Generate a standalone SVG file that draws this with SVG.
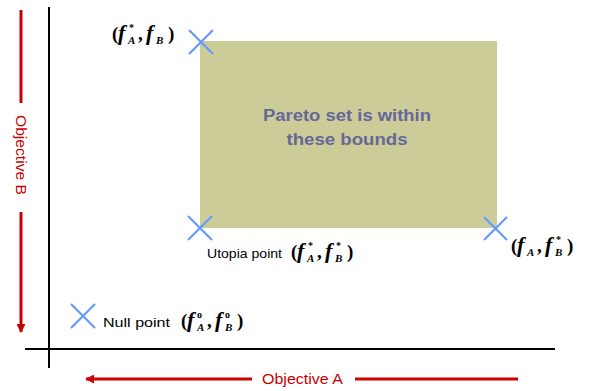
<svg xmlns="http://www.w3.org/2000/svg" width="591" height="391" viewBox="0 0 591 391">
<defs>
<style>
.axis{stroke:#000;stroke-width:2;fill:none}
.red{stroke:#cc0000;stroke-width:3;fill:none}
.x{stroke:#6699ff;stroke-width:2.2;fill:none}
.math{font-family:"Liberation Serif",serif;font-weight:bold;font-size:19px;fill:#000}
.f{font-style:italic;font-size:22px}
.sub{font-size:11px;font-style:italic}
.sup{font-size:10px}
.lbl{font-family:"Liberation Sans",Arial,sans-serif;font-size:13px;fill:#000}
.obj{font-family:"Liberation Sans",Arial,sans-serif;font-size:14px;fill:#cc0000}
.pareto{font-family:"Liberation Sans",Arial,sans-serif;font-size:16px;font-weight:bold;fill:#666699}
</style>
<marker id="ah" viewBox="0 0 10 10" refX="9" refY="5" markerWidth="3" markerHeight="3" orient="auto-start-reverse" markerUnits="strokeWidth">
<path d="M0,0 L10,5 L0,10 z" fill="#cc0000"/>
</marker>
</defs>
<rect width="591" height="391" fill="#fff"/>
<g id="axes">
<line class="axis" x1="49" y1="7" x2="49" y2="368"/>
<line class="axis" x1="25" y1="349" x2="555" y2="349"/>
</g>
<g id="pareto-region">
<rect x="200" y="41" width="297" height="187" fill="#cccc99"/>
<text class="pareto" x="347" y="121" text-anchor="middle" textLength="168" lengthAdjust="spacingAndGlyphs">Pareto set is within</text>
<text class="pareto" x="347" y="145" text-anchor="middle" textLength="121" lengthAdjust="spacingAndGlyphs">these bounds</text>
</g>
<g id="objective-b">
<line class="red" x1="21" y1="10" x2="21" y2="103"/>
<line class="red" x1="21" y1="212" x2="21" y2="332" marker-end="url(#ah)"/>
<text class="obj" transform="translate(16,155) rotate(90)" text-anchor="middle" textLength="80" lengthAdjust="spacingAndGlyphs">Objective B</text>
</g>
<g id="objective-a">
<line class="red" x1="518" y1="379" x2="355" y2="379"/>
<line class="red" x1="252" y1="379" x2="86" y2="379" marker-end="url(#ah)"/>
<text class="obj" x="262" y="384" textLength="81" lengthAdjust="spacingAndGlyphs">Objective A</text>
</g>
<g id="point-top-left">
<path class="x" d="M189,30 L213,54 M213,30 L189,54"/>
<text class="math" transform="translate(112,40)"><tspan x="0" y="0">(</tspan><tspan class="f" x="6" y="0">f</tspan><tspan class="sub" x="16" y="4">A</tspan><tspan class="sup" x="17" y="-9">*</tspan><tspan x="26" y="0">,</tspan><tspan class="f" x="34" y="0">f</tspan><tspan class="sub" x="44" y="4">B</tspan><tspan x="56" y="0">)</tspan></text>
</g>
<g id="utopia-point">
<path class="x" d="M188,216 L212,240 M212,216 L188,240"/>
<text class="lbl" x="207" y="258" textLength="75" lengthAdjust="spacingAndGlyphs">Utopia point</text>
<text class="math" transform="translate(291,258)"><tspan x="0" y="0">(</tspan><tspan class="f" x="6" y="0">f</tspan><tspan class="sub" x="16" y="4">A</tspan><tspan class="sup" x="17" y="-9">*</tspan><tspan x="26" y="0">,</tspan><tspan class="f" x="34" y="0">f</tspan><tspan class="sub" x="44" y="4">B</tspan><tspan class="sup" x="45" y="-9">*</tspan><tspan x="56" y="0">)</tspan></text>
</g>
<g id="point-bottom-right">
<path class="x" d="M484,217 L507,240 M507,217 L484,240"/>
<text class="math" transform="translate(511,252)"><tspan x="0" y="0">(</tspan><tspan class="f" x="6" y="0">f</tspan><tspan class="sub" x="16" y="4">A</tspan><tspan x="26" y="0">,</tspan><tspan class="f" x="34" y="0">f</tspan><tspan class="sub" x="44" y="4">B</tspan><tspan class="sup" x="45" y="-9">*</tspan><tspan x="56" y="0">)</tspan></text>
</g>
<g id="null-point">
<path class="x" d="M71,304 L95,328 M95,304 L71,328"/>
<text class="lbl" x="103" y="327" textLength="67" lengthAdjust="spacingAndGlyphs">Null point</text>
<text class="math" transform="translate(181,327)"><tspan x="0" y="0">(</tspan><tspan class="f" x="6" y="0">f</tspan><tspan class="sub" x="16" y="4">A</tspan><tspan class="sup" x="16" y="-9">o</tspan><tspan x="26" y="0">,</tspan><tspan class="f" x="34" y="0">f</tspan><tspan class="sub" x="44" y="4">B</tspan><tspan class="sup" x="44" y="-9">o</tspan><tspan x="56" y="0">)</tspan></text>
</g>
</svg>
